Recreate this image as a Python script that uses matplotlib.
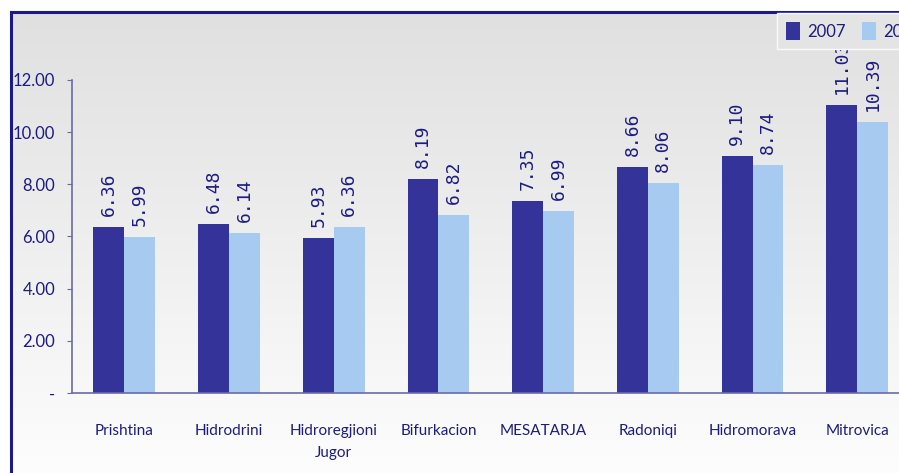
import numpy as np
import matplotlib
matplotlib.use("Agg")
import matplotlib.pyplot as plt
from matplotlib.lines import Line2D
from matplotlib.colors import LinearSegmentedColormap

categories = ["Prishtina", "Hidrodrini", "Hidroregjioni\nJugor", "Bifurkacion",
              "MESATARJA", "Radoniqi", "Hidromorava", "Mitrovica"]
series_names = ["2007", "2008"]
values_2007 = [6.36, 6.48, 5.93, 8.19, 7.35, 8.66, 9.10, 11.03]
values_2008 = [5.99, 6.14, 6.36, 6.82, 6.99, 8.06, 8.74, 10.39]
yticks = [0, 2, 4, 6, 8, 10, 12]
ytick_labels = ["-", "2.00", "4.00", "6.00", "8.00", "10.00", "12.00"]

W, H = 899, 473
c07 = "#333399"
c08 = "#a6caf0"
navy = "#1c1c80"
axis_col = "#6a6aa8"
tick_font = "Lato"

fig = plt.figure(figsize=(W / 100, H / 100), dpi=100)

# gradient background frame
bg = fig.add_axes([11 / W, 0, 1 - 11 / W, 1 - 12 / H])
grad = np.linspace(0, 1, 256).reshape(-1, 1)
cmap = LinearSegmentedColormap.from_list("g", ["#fdfdfd", "#e0e0e0"])
bg.imshow(grad, aspect="auto", cmap=cmap, origin="lower", extent=[0, 1, 0, 1])
bg.set_xlim(0, 1)
bg.set_ylim(0, 1)
bg.axis("off")
fig.add_artist(Line2D([11 / W, 11 / W], [0, 1 - 12 / H], color="#1a1a8a", lw=2.2, transform=fig.transFigure))
fig.add_artist(Line2D([11 / W, 1], [1 - 12 / H, 1 - 12 / H], color="#1a1a8a", lw=2.2, transform=fig.transFigure))

# main axes
x0, x1 = 72, 72 + 8 * 104.7
ytop, ybot = 80, 393
ax = fig.add_axes([x0 / W, 1 - ybot / H, (x1 - x0) / W, (ybot - ytop) / H])
ax.patch.set_alpha(0)
x = np.arange(len(categories))
bw = 0.295
b1 = ax.bar(x - bw / 2, values_2007, bw, color=c07, label=series_names[0], zorder=2)
b2 = ax.bar(x + bw / 2, values_2008, bw, color=c08, label=series_names[1], zorder=2)
for xs, vals in ((x - bw / 2, values_2007), (x + bw / 2, values_2008)):
    for xi, v in zip(xs, vals):
        ax.annotate(f"{v:.2f}", (xi, v), xytext=(0, 8), textcoords="offset points",
                    rotation=90, ha="center", va="bottom", color=navy,
                    fontsize=13, family="DejaVu Sans Mono", annotation_clip=False)
ax.set_xlim(-0.5, len(categories) - 0.5)
ax.set_ylim(0, 12)
ax.set_yticks(yticks)
ax.set_yticklabels(ytick_labels)
ax.set_xticks(x)
ax.set_xticklabels(categories, linespacing=1.75)
for s in ("top", "right"):
    ax.spines[s].set_visible(False)
for s in ("left", "bottom"):
    ax.spines[s].set_color(axis_col)
    ax.spines[s].set_linewidth(1.2)
ax.tick_params(axis="y", direction="out", length=3.6, color=axis_col, pad=8.6,
               labelsize=12, labelcolor=navy)
ax.tick_params(axis="x", length=0, pad=22, labelsize=11, labelcolor=navy)
for lab in ax.get_xticklabels() + ax.get_yticklabels():
    lab.set_family(tick_font)
for lab in ax.get_xticklabels():
    lab.set_verticalalignment("top")

# legend
leg = fig.legend(handles=[b1, b2], labels=series_names, loc="upper left",
                 bbox_to_anchor=(777 / W, 1 - 13 / H), ncol=2, frameon=True,
                 facecolor="#e4e4e4", edgecolor="#fafafa", framealpha=1,
                 fancybox=False, handlelength=0.8, handleheight=1.25,
                 handletextpad=0.45, columnspacing=1.0, borderpad=0.55,
                 borderaxespad=0, prop={"family": tick_font, "size": 12})
for t in leg.get_texts():
    t.set_color(navy)

fig.savefig("out.png", dpi=100)
